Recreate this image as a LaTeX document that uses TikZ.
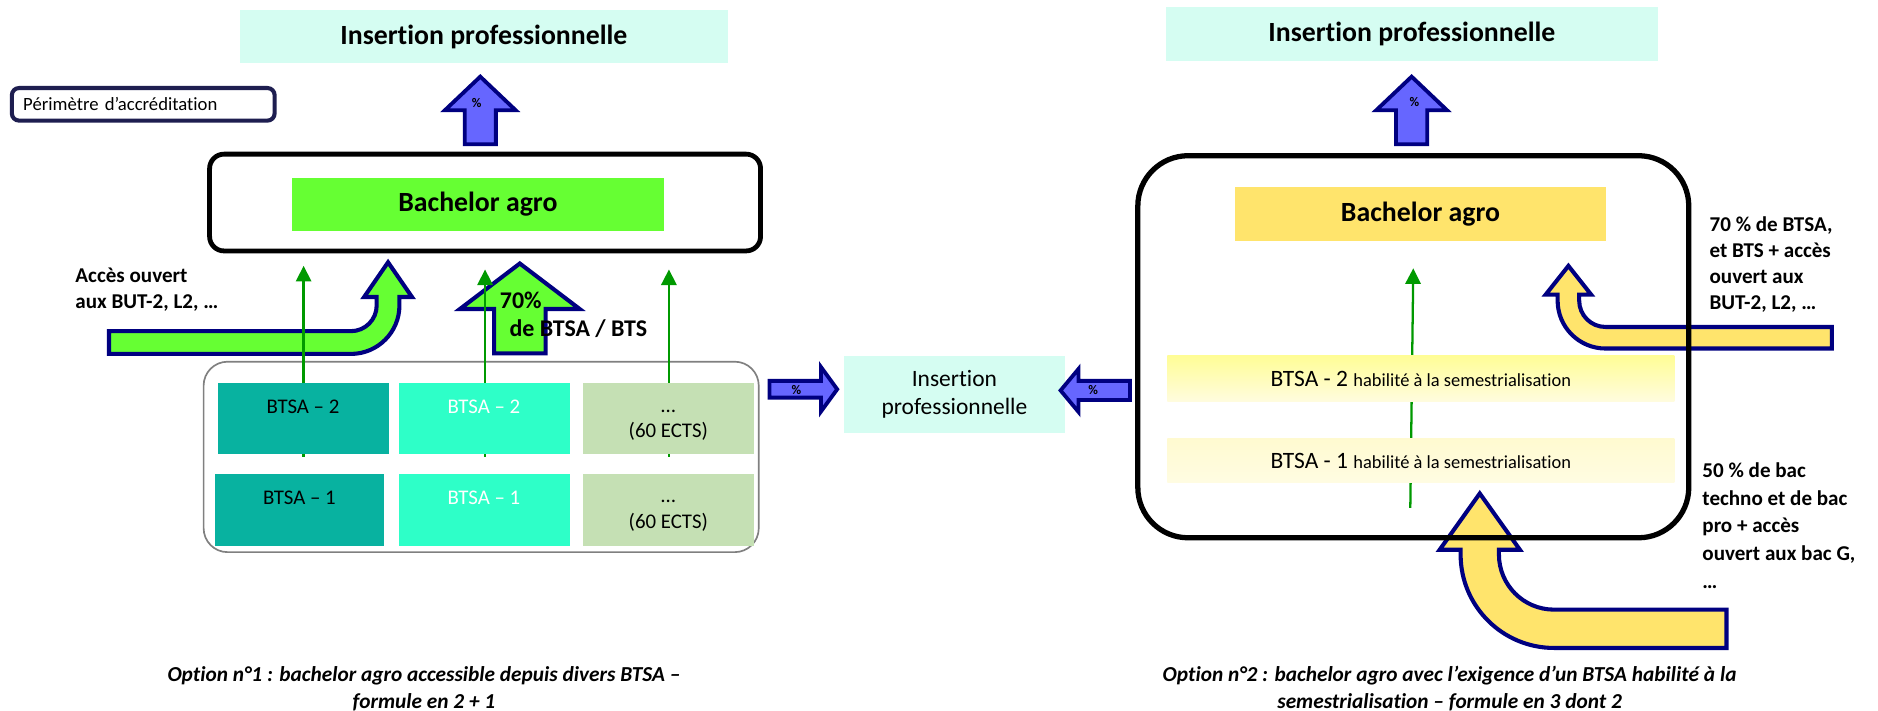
\documentclass[tikz,border=0pt]{standalone}
\usepackage{fontspec}
\setmainfont{Carlito}[Ligatures=NoCommon]
\usetikzlibrary{arrows.meta}
\pgfdeclarelayer{glines}
\pgfdeclarelayer{front}
\pgfsetlayers{main,glines,front}
\newcommand\fnt[2]{\fontsize{#1}{#2}\selectfont}
\definecolor{cyanbox}{RGB}{213,253,242}
\definecolor{bluefill}{RGB}{102,102,255}
\definecolor{navy}{RGB}{0,0,128}
\definecolor{lime}{RGB}{102,255,51}
\definecolor{tealbox}{RGB}{8,178,160}
\definecolor{aquabox}{RGB}{46,255,200}
\definecolor{sagebox}{RGB}{197,224,180}
\definecolor{gold}{RGB}{255,228,108}
\definecolor{gline}{RGB}{0,153,0}
\definecolor{perimc}{RGB}{30,30,80}
\definecolor{contgray}{RGB}{128,128,128}
\definecolor{bandtwotop}{RGB}{255,253,150}
\definecolor{bandtwobot}{RGB}{255,252,222}
\definecolor{bandonetop}{RGB}{255,250,208}
\definecolor{bandonebot}{RGB}{255,252,226}
\tikzset{
  titlebox/.style={fill=cyanbox, inner sep=0pt, minimum width=204pt, minimum height=22.2pt, font=\fnt{11.6}{14}\bfseries},
  bigbox/.style={draw=black, line width=2pt, rounded corners=6pt, inner sep=0pt},
  bachbox/.style={inner sep=0pt, minimum width=155pt, minimum height=22.5pt, font=\fnt{11.6}{14}\bfseries},
  bluearrow/.style={fill=bluefill, draw=navy, line width=1.6pt, line join=miter},
  bentarrow/.style={draw=navy, line width=1.7pt, line join=miter},
  pct/.style={font=\fnt{5.5}{6}\bfseries, inner sep=0pt},
  greenarrow/.style={draw=gline, line width=0.95pt, -{Triangle[length=6.5pt,width=6.4pt]}},
  btsabox/.style={inner sep=0pt, minimum height=30pt},
  btsatext/.style={font=\fnt{8.7}{10.6}, inner sep=0pt},
  sidelabel/.style={font=\fnt{8.8}{10.85}\bfseries, align=left, inner sep=0pt, anchor=north west},
  captiontext/.style={font=\fnt{8.9}{11.2}\bfseries\itshape, align=center, inner sep=0pt},
  perimbox/.style={draw=perimc, fill=white, line width=1.7pt, rounded corners=3pt, minimum height=13.6pt, text width=100.2pt, inner xsep=4.75pt, inner ysep=0pt, align=left, font=\fnt{7.8}{9.5}},
  midbox/.style={fill=cyanbox, minimum width=92.15pt, minimum height=32.3pt, align=center, font=\fnt{9.8}{11.5}, inner sep=0pt},
  contbox/.style={draw=contgray, line width=0.7pt, rounded corners=10pt, minimum width=231.75pt, minimum height=79.5pt, inner sep=0pt},
  bandbox/.style={inner sep=0pt, minimum width=211.7pt},
  bandtext/.style={inner sep=0pt},
}
\begin{document}
\begin{tikzpicture}[x=0.5pt,y=-0.5pt]
\useasboundingbox (0,0) rectangle (1568,593.6);
\fill[white] (0,0) rectangle (1568,593.6);

% ---------- top titles and blue arrows
\node[titlebox] (ipL) at (404,30.6) {Insertion professionnelle};
\node[titlebox, minimum width=205.2pt, minimum height=22.7pt] (ipR) at (1178.8,28.3) {Insertion professionnelle};
\draw[bluearrow] (388,120.5) -- (388,92) -- (371.5,92) -- (401,64) -- (430.5,92) -- (414,92) -- (414,120.5) -- cycle;
\node[pct] (pctL) at (398,86.3) {\%};
\draw[bluearrow] (1165.6,120.5) -- (1165.6,92) -- (1149.1,92) -- (1178.6,64) -- (1208.1,92) -- (1191.6,92) -- (1191.6,120.5) -- cycle;
\node[pct] (pctR) at (1181,85) {\%};

% ---------- perimetre
\node[perimbox] (perim) at (119.6,87.1) {Périmètre d’accréditation};

% ---------- left option
\node[bigbox, minimum width=230pt, minimum height=40.4pt] (outerL) at (405,169.1) {};
\node[bachbox, fill=lime] (bachL) at (399,170.75) {Bachelor agro};
\node[contbox] (cont) at (401.75,381.5) {};
\draw[bentarrow, fill=lime] (412.5,295) -- (412.5,258) -- (384,258) -- (434,220) -- (484,258) -- (455.5,258) -- (455.5,295) -- cycle;
\draw[bentarrow, fill=lime] (91,276.5) -- (293,276.5) .. controls (304.87,276.5) and (314.5,266.87) .. (314.5,255) -- (314.5,248) -- (304,248) -- (324,219) -- (344,248) -- (333.5,248) -- (333.5,255) .. controls (333.5,277.37) and (315.37,295.5) .. (293,295.5) -- (91,295.5) -- cycle;
\node[sidelabel] (accL) at (62.6,223.4) {Accès ouvert\\aux BUT-2, L2, …};

% ---------- middle
\draw[bluearrow] (642.5,318) -- (685.5,318) -- (685.5,306.5) -- (699,325) -- (685.5,343.5) -- (685.5,332) -- (642.5,332) -- cycle;
\node[pct] (pctM1) at (665,325.6) {\%};
\node[midbox] (ipM) at (796.85,329.3) {Insertion\\professionnelle};
\draw[bluearrow] (943.5,318) -- (900.5,318) -- (900.5,308) -- (885.5,326) -- (900.5,344) -- (900.5,334) -- (943.5,334) -- cycle;
\node[pct] (pctM2) at (912.8,325.6) {\%};

% ---------- right option
\draw[bentarrow, fill=gold] (1529.5,273) -- (1340.5,273) .. controls (1328.35,273) and (1318.5,263.15) .. (1318.5,251) -- (1318.5,246) -- (1328.5,246) -- (1309.5,222) -- (1290.5,246) -- (1300.5,246) -- (1300.5,251) .. controls (1300.5,273.09) and (1318.41,291) .. (1340.5,291) -- (1529.5,291) -- cycle;
\draw[bentarrow, fill=gold] (1441.5,509) -- (1297.5,509) .. controls (1272.09,509) and (1251.5,488.41) .. (1251.5,463) -- (1251.5,459) -- (1269,459) -- (1235.5,412) -- (1202,459) -- (1219.5,459) -- (1219.5,463) .. controls (1219.5,506.08) and (1254.42,541) .. (1297.5,541) -- (1441.5,541) -- cycle;
\node[bigbox, line width=2.2pt, rounded corners=21pt, minimum width=230pt, minimum height=159.5pt] (outerR) at (1180,289.5) {};
\node[bachbox, fill=gold] (bachR) at (1186,178.7) {Bachelor agro};
\node[sidelabel] (lab70) at (1427,180.3) {70 \% de BTSA,\\et BTS + accès\\ouvert aux\\BUT-2, L2, …};
\node[sidelabel, font=\fnt{8.8}{11.6}\bfseries] (lab50) at (1421,385.7) {50 \% de bac\\techno et de bac\\pro + accès\\ouvert aux bac G,\\…};

% ---------- captions
\node[captiontext] (capL) at (354,574.8) {Option n°1 : bachelor agro accessible depuis divers BTSA –\\formule en 2 + 1};
\node[captiontext] (capR) at (1210.3,574.8) {Option n°2 : bachelor agro avec l’exigence d’un BTSA habilité à la\\semestrialisation – formule en 3 dont 2};

% ---------- green lines
\begin{pgfonlayer}{glines}
\coordinate (tipA) at (253.5,222);
\coordinate (tipB) at (405,225);
\coordinate (tipC) at (558.5,225);
\coordinate (tipR) at (1180,224);
\coordinate (botR) at (1177.5,424);
\draw[greenarrow] (tipA |- cont.center) -- (tipA);
\draw[greenarrow] (tipB |- cont.center) -- (tipB);
\draw[greenarrow] (tipC |- cont.center) -- (tipC);
\draw[greenarrow] (botR) -- (tipR);
\end{pgfonlayer}

% ---------- front boxes
\begin{pgfonlayer}{front}
\node[btsabox, fill=tealbox, minimum width=71.25pt, minimum height=29.7pt] (b2a) at (253.25,349.7) {};
\node[btsabox, fill=tealbox, minimum width=70.75pt, minimum height=30.1pt] (b1a) at (250.25,425.9) {};
\node[btsabox, fill=aquabox, minimum width=71.3pt, minimum height=29.7pt] (b2b) at (404.3,349.7) {};
\node[btsabox, fill=aquabox, minimum width=71.3pt, minimum height=30.1pt] (b1b) at (404.3,425.9) {};
\node[btsabox, fill=sagebox, minimum width=71.4pt, minimum height=29.7pt] (b2c) at (558.2,349.7) {};
\node[btsabox, fill=sagebox, minimum width=71.4pt, minimum height=30.1pt] (b1c) at (558.2,425.9) {};
\node[btsatext] (t2a) at (253,340) {BTSA – 2};
\node[btsatext] (t1a) at (250,415.5) {BTSA – 1};
\node[btsatext, text=white] (t2b) at (404,340) {BTSA – 2};
\node[btsatext, text=white] (t1b) at (404,415.5) {BTSA – 1};
\node[btsatext] (t2c) at (558,343.7) {…};
\node[btsatext] (e2c) at (558,360.5) {(60 ECTS)};
\node[btsatext] (t1c) at (558,419) {…};
\node[btsatext] (e1c) at (558,436) {(60 ECTS)};
\node[font=\fnt{10}{12}\bfseries, inner sep=0pt, anchor=west] (p70) at (417,250.5) {70\%};
\node[font=\fnt{10}{12}\bfseries, inner sep=0pt, anchor=west] (deB) at (425,274.7) {de BTSA / BTS};
\node[bandbox, top color=bandtwotop, bottom color=bandtwobot, minimum height=19pt] (band2) at (1186.3,316) {};
\node[bandbox, top color=bandonetop, bottom color=bandonebot, minimum height=18.5pt] (band1) at (1186.3,384.5) {};
\node[bandtext] (bt2) at (band2.center) {{\fnt{9.8}{12}BTSA - 2} {\fnt{7.7}{9}habilité à la semestrialisation}};
\node[bandtext] (bt1) at (band1.center) {{\fnt{9.8}{12}BTSA - 1} {\fnt{7.7}{9}habilité à la semestrialisation}};
\end{pgfonlayer}
\end{tikzpicture}
\end{document}
